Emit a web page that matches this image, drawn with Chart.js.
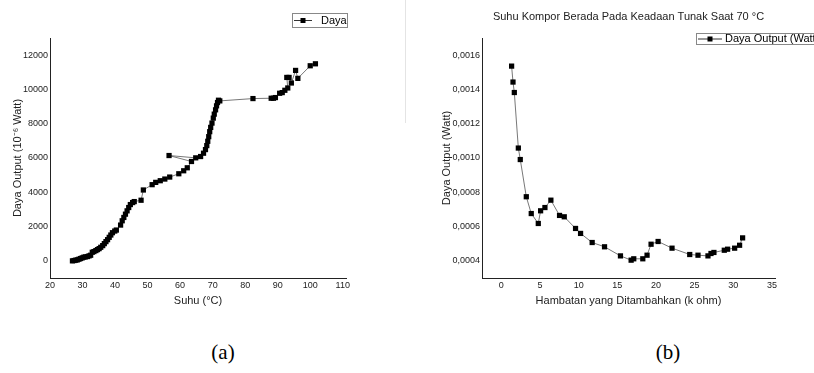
<!DOCTYPE html>
<html>
<head>
<meta charset="utf-8">
<script src="https://cdn.jsdelivr.net/npm/chart.js@4.4.1/dist/chart.umd.min.js"></script>
<style>
  body { margin: 0; width: 814px; height: 373px; background: #fff; position: relative; overflow: hidden; }
  canvas { position: absolute; top: 0; }
  #chartA { left: 0; }
  #chartB { left: 405px; }
  .caption { position: absolute; top: 340px; width: 60px; text-align: center; font-family: "Liberation Serif", "Times New Roman", serif; font-size: 21px; line-height: 24px; color: #000; }
  #sep { position: absolute; left: 405px; top: 0; width: 1px; height: 123px; background: #e4e4e4; }
</style>
</head>
<body>
<canvas id="chartA" width="405" height="320"></canvas>
<canvas id="chartB" width="409" height="320"></canvas>
<div id="sep"></div>
<div class="caption" style="left:193px">(a)</div>
<div class="caption" style="left:638px">(b)</div>
<script>
// (a) Daya output vs suhu
const suhuA = [26.9, 27.4, 27.9, 28.4, 28.9, 29.4, 29.9, 30.4, 30.9, 31.5, 32.0, 32.5, 33.0, 33.5, 34.1, 34.6, 35.1, 35.6, 36.2, 36.7,
  37.2, 37.7, 38.2, 38.7, 39.2, 39.9, 40.4, 41.7, 42.2, 42.7, 43.2, 43.7, 44.2, 44.7, 45.4, 45.9, 48.0, 48.7, 51.4, 52.5,
  53.9, 55.3, 56.8, 59.6, 61.1, 62.2, 63.5, 56.6, 64.8, 66.3, 67.2, 67.8, 68.2, 68.5, 68.8, 69.1, 69.4, 69.8, 70.2, 70.5,
  70.9, 71.2, 71.5, 71.8, 72.2, 82.4, 88.0, 88.7, 89.3, 90.6, 91.4, 92.2, 93.1, 92.8, 93.5, 94.2, 95.5, 96.2, 100.0, 101.6];
const dayaA = [0, 19, 39, 58, 97, 135, 174, 213, 232, 251, 290, 328, 502, 541, 599, 657, 715, 792, 889, 1005,
  1121, 1236, 1372, 1507, 1642, 1739, 1797, 2087, 2338, 2531, 2724, 2917, 3111, 3284, 3400, 3458, 3536, 4134, 4444, 4579,
  4675, 4772, 4888, 5081, 5255, 5429, 5796, 6144, 6009, 6086, 6279, 6491, 6723, 6975, 7245, 7535, 7786, 8037, 8327, 8559,
  8810, 9042, 9235, 9370, 9331, 9467, 9486, 9486, 9525, 9776, 9815, 9950, 10085, 10700, 10700, 10375, 11109, 10645, 11380, 11495];
const xTicksA = [20, 30, 40, 50, 60, 70, 80, 90, 100, 110];
const yTicksA = [0, 2000, 4000, 6000, 8000, 10000, 12000];

// (b) Daya output vs hambatan
const hambatanB = [1.33, 1.51, 1.68, 2.20, 2.45, 3.23, 3.87, 4.78, 5.08, 5.64, 6.41, 7.53, 8.14, 9.60, 10.25, 11.75, 13.35, 15.41,
  16.79, 17.13, 18.30, 18.85, 19.37, 20.28, 22.08, 24.37, 25.44, 26.73, 27.12, 27.50, 28.84, 29.27, 30.18, 30.82, 31.21];
const dayaB = [0.001536, 0.001443, 0.001382, 0.001058, 0.000991, 0.000774, 0.000676, 0.000618, 0.000692, 0.000711, 0.000754,
  0.000665, 0.000657, 0.000589, 0.000560, 0.000507, 0.000482, 0.000429, 0.000404, 0.000412, 0.000412, 0.000433, 0.000497,
  0.000513, 0.000474, 0.000437, 0.000433, 0.000429, 0.000443, 0.000449, 0.000462, 0.000468, 0.000474, 0.000491, 0.000534];
const xTicksB = [0, 5, 10, 15, 20, 25, 30, 35];
const yTicksB = [0.0004, 0.0006, 0.0008, 0.0010, 0.0012, 0.0014, 0.0016];

const FONT = "'Liberation Sans', Arial, sans-serif";
Chart.defaults.font.family = FONT;
Chart.defaults.color = "#222";

// small boxed legend "-■- label" drawn above the plot
const legendBox = {
  id: "legendBox",
  afterDraw(chart, args, o) {
    const ctx = chart.ctx;
    const my = o.y + o.h / 2 + 0.5;
    ctx.save();
    ctx.strokeStyle = "#888";
    ctx.lineWidth = 1;
    ctx.strokeRect(o.x + 0.5, o.y + 0.5, o.w, o.h);
    ctx.strokeStyle = "#333";
    ctx.beginPath();
    ctx.moveTo(o.x + 2, my);
    ctx.lineTo(o.x + o.lineLen, my);
    ctx.stroke();
    ctx.fillStyle = "#000";
    ctx.fillRect(o.x + o.lineLen / 2 - 2.5 + 1, my - 2.5, 5, 5);
    ctx.font = "11px " + FONT;
    ctx.textBaseline = "middle";
    ctx.fillText(o.text, o.x + o.textX, my);
    ctx.restore();
  },
};

function axis(min, max, ticks, fmt, size, title, titlePad) {
  return {
    min: min,
    max: max,
    grid: { display: false, drawTicks: false },
    border: { display: true, color: "#222", width: 1 },
    ticks: { font: { size: 9 }, padding: 2, color: "#222", callback: fmt, autoSkip: false, maxRotation: 0 },
    afterBuildTicks: (scale) => {
      scale.ticks = ticks.map((v) => ({ value: v }));
    },
    afterFit: (scale) => {
      if (scale.isHorizontal()) scale.height = size;
      else scale.width = size;
    },
    title: { display: true, text: title, font: { size: 11 }, color: "#222", padding: titlePad },
  };
}

const dataset = (xs, ys, label) => ({
  label: label,
  data: xs.map((x, i) => ({ x: x, y: ys[i] })),
  showLine: true,
  borderColor: "#555",
  borderWidth: 0.8,
  pointStyle: "rect",
  pointRadius: 3.7,
  pointBackgroundColor: "#000",
  pointBorderWidth: 0,
  tension: 0,
});

new Chart(document.getElementById("chartA"), {
  type: "scatter",
  data: { datasets: [dataset(suhuA, dayaA, "Daya")] },
  options: {
    responsive: false,
    animation: false,
    layout: { padding: { left: 0, right: 59, top: 38, bottom: 12 } },
    plugins: {
      legend: { display: false },
      tooltip: { enabled: false },
      legendBox: { x: 292, y: 13, w: 55, h: 14, lineLen: 20, textX: 29, text: "Daya" },
    },
    scales: {
      x: axis(20, 111, xTicksA, (v) => v, 30, "Suhu (\u00B0C)", { top: 4, bottom: 0 }),
      y: axis(-1000, 13000, yTicksA, (v) => v, 50, "Daya Output (10\u207B\u2076 Watt)", { top: 11, bottom: 0 }),
    },
  },
  plugins: [legendBox],
});

new Chart(document.getElementById("chartB"), {
  type: "scatter",
  data: { datasets: [dataset(hambatanB, dayaB, "Daya Output (Watt)")] },
  options: {
    responsive: false,
    animation: false,
    layout: { padding: { left: 0, right: 39, top: 0, bottom: 12 } },
    plugins: {
      legend: { display: false },
      tooltip: { enabled: false },
      title: {
        display: true,
        fullSize: false,
        text: "Suhu Kompor Berada Pada Keadaan Tunak Saat 70 \u00B0C",
        font: { size: 11, weight: "normal" },
        color: "#222",
        padding: { top: 10, bottom: 14.8 },
      },
      legendBox: { x: 291, y: 33, w: 125, h: 11, lineLen: 26, textX: 29, text: "Daya Output (Watt)" },
    },
    scales: {
      x: axis(-2.5, 35.4, xTicksB, (v) => v, 30, "Hambatan yang Ditambahkan (k ohm)", { top: 4, bottom: 0 }),
      y: axis(0.0003, 0.0017, yTicksB, (v) => v.toFixed(4).replace(".", ","), 77, "Daya Output (Watt)", { top: 35, bottom: 0 }),
    },
  },
  plugins: [legendBox],
});
</script>
</body>
</html>
